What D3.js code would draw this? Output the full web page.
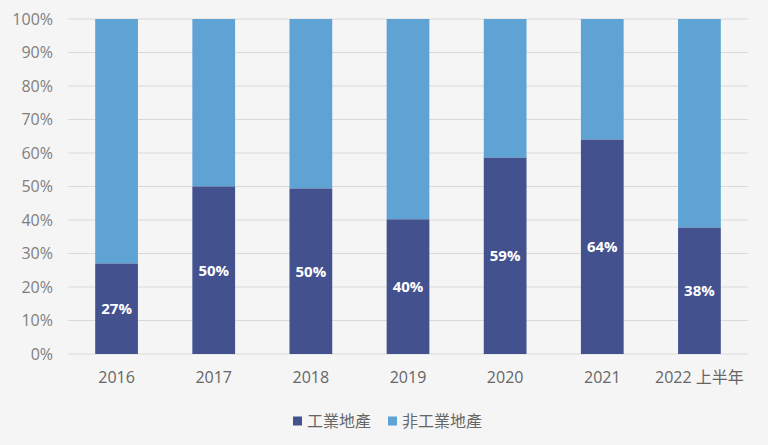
<!DOCTYPE html>
<html>
<head>
<meta charset="utf-8">
<script src="https://cdn.jsdelivr.net/npm/d3@7"></script>
<style>
  body { margin: 0; background: #f5f5f5; }
  svg { display: block; font-family: "Open Sans", "Noto Sans", "Noto Sans CJK TC", sans-serif; }
</style>
</head>
<body>
<svg id="chart"></svg>
<script>
const categories = ["2016", "2017", "2018", "2019", "2020", "2021", "2022 上半年"];
const industrial = [27, 50, 49.4, 40.2, 58.6, 64, 37.7];
const labels = ["27%", "50%", "50%", "40%", "59%", "64%", "38%"];
const seriesNames = ["工業地產", "非工業地產"];
const yTicks = [0, 10, 20, 30, 40, 50, 60, 70, 80, 90, 100];

const W = 768, H = 445;
const margin = {top: 19, right: 20, bottom: 91, left: 68};
const width = W - margin.left - margin.right;
const height = H - margin.top - margin.bottom;
const colors = ["#43518f", "#5fa3d4"];

const svg = d3.select("#chart")
    .attr("width", W)
    .attr("height", H);

const g = svg.append("g")
    .attr("transform", `translate(${margin.left},${margin.top})`);

const x = d3.scaleBand()
    .domain(categories)
    .range([0, width])
    .paddingInner(0.56)
    .paddingOuter(0.28);

const y = d3.scaleLinear()
    .domain([0, 100])
    .range([height, 0]);

// gridlines
g.selectAll(".grid")
    .data(yTicks)
    .enter()
    .append("line")
    .attr("x1", 0)
    .attr("x2", width)
    .attr("y1", d => y(d))
    .attr("y2", d => y(d))
    .attr("stroke", "#d9d9d9")
    .attr("stroke-width", 1);

const data = categories.map((c, i) => ({cat: c, ind: industrial[i], label: labels[i]}));

// non-industrial (top part)
g.selectAll(".bar-non")
    .data(data)
    .enter()
    .append("rect")
    .attr("x", d => x(d.cat))
    .attr("width", x.bandwidth())
    .attr("y", y(100))
    .attr("height", d => y(d.ind) - y(100))
    .attr("fill", colors[1]);

// industrial (bottom part)
g.selectAll(".bar-ind")
    .data(data)
    .enter()
    .append("rect")
    .attr("x", d => x(d.cat))
    .attr("width", x.bandwidth())
    .attr("y", d => y(d.ind))
    .attr("height", d => y(0) - y(d.ind))
    .attr("fill", colors[0]);

// value labels
g.selectAll(".val")
    .data(data)
    .enter()
    .append("text")
    .attr("x", d => x(d.cat) + x.bandwidth() / 2)
    .attr("y", d => (y(d.ind) + y(0)) / 2)
    .attr("dy", "0.36em")
    .attr("text-anchor", "middle")
    .style("fill", "white")
    .style("font-size", "15px")
    .style("font-weight", "bold")
    .text(d => d.label);

// y axis
const yAxis = d3.axisLeft(y)
    .tickValues(yTicks)
    .tickSize(0)
    .tickPadding(15)
    .tickFormat(d => d + "%");

g.append("g")
    .call(yAxis)
    .call(a => a.select(".domain").remove())
    .selectAll("text")
    .style("fill", "#7f7f7f")
    .style("font-size", "16px")
    .style("font-family", "'Open Sans', 'Noto Sans', sans-serif");

// x axis
const xAxis = d3.axisBottom(x)
    .tickSize(0)
    .tickPadding(18);

g.append("g")
    .attr("transform", `translate(0,${height})`)
    .call(xAxis)
    .call(a => a.select(".domain").remove())
    .selectAll("text")
    .style("fill", "#666666")
    .style("font-size", "16px")
    .style("font-family", "'Open Sans', 'Noto Sans CJK TC', sans-serif");

// legend
const legend = svg.append("g")
    .attr("transform", "translate(293,421)");

const legendX = [0, 95];
seriesNames.forEach((name, i) => {
    const item = legend.append("g").attr("transform", `translate(${legendX[i]},0)`);
    item.append("rect")
        .attr("x", 0)
        .attr("y", -4.5)
        .attr("width", 9)
        .attr("height", 9)
        .attr("fill", colors[i]);
    item.append("text")
        .attr("x", 14)
        .attr("y", 0)
        .attr("dy", "0.36em")
        .style("fill", "#666666")
        .style("font-size", "16px")
        .style("font-family", "'Noto Sans CJK TC', sans-serif")
        .text(name);
});
</script>
</body>
</html>
